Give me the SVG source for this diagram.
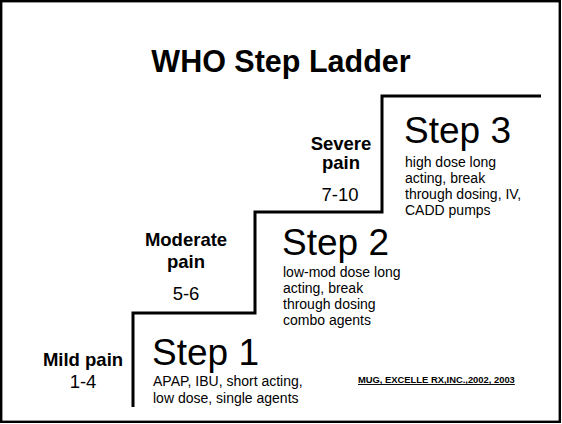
<svg xmlns="http://www.w3.org/2000/svg" width="562" height="424" viewBox="0 0 562 424">
<style>
text{font-family:"Liberation Sans",Arial,sans-serif;fill:#000}
.b{font-weight:bold}
.lab{font-size:18.5px;text-anchor:middle}
.step{font-size:37px}
.desc{font-size:14px}
</style>
<rect x="0" y="0" width="562" height="424" fill="#fff"/>
<rect x="1.2" y="1.2" width="558.6" height="420.6" fill="none" stroke="#000" stroke-width="2.4"/>
<text class="b" x="281" y="72" font-size="30.5" text-anchor="middle">WHO Step Ladder</text>
<g id="connectors">
<path d="M133,407 V313 H255 V212 H382 V96 H541" fill="none" stroke="#000" stroke-width="3"/>
</g>
<g id="mild">
<text class="lab b" x="83" y="366">Mild pain</text>
<text class="lab" x="83" y="388">1-4</text>
</g>
<g id="moderate">
<text class="lab b" x="186" y="246">Moderate</text>
<text class="lab b" x="186" y="268">pain</text>
<text class="lab" x="186" y="300">5-6</text>
</g>
<g id="severe">
<text class="lab b" x="341" y="150">Severe</text>
<text class="lab b" x="341" y="169">pain</text>
<text class="lab" x="340" y="201">7-10</text>
</g>
<g id="step1">
<text class="step" x="152" y="365">Step 1</text>
<text class="desc" x="153" y="386">APAP, IBU, short acting,</text>
<text class="desc" x="153" y="403">low dose, single agents</text>
</g>
<g id="step2">
<text class="step" x="282" y="255">Step 2</text>
<text class="desc" x="283" y="277">low-mod dose long</text>
<text class="desc" x="283" y="293">acting, break</text>
<text class="desc" x="283" y="309">through dosing</text>
<text class="desc" x="283" y="325">combo agents</text>
</g>
<g id="step3">
<text class="step" x="404" y="143">Step 3</text>
<text class="desc" x="405" y="167">high dose long</text>
<text class="desc" x="405" y="183">acting, break</text>
<text class="desc" x="405" y="199">through dosing, IV,</text>
<text class="desc" x="405" y="215">CADD pumps</text>
</g>
<g id="credit">
<text class="b" x="358" y="383" font-size="9.4" text-decoration="underline">MUG, EXCELLE RX,INC.,2002, 2003</text>
</g>
</svg>
